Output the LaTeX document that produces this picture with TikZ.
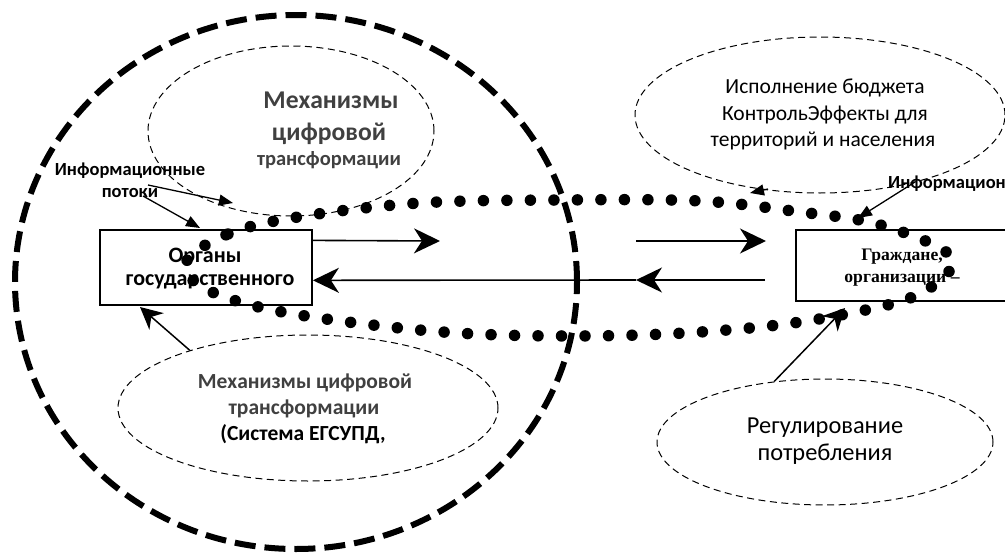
\documentclass[tikz,border=0pt]{standalone}
\usepackage{fontspec}
\setmainfont{Carlito}
\newfontfamily\serifb{Liberation Serif}
\usetikzlibrary{arrows.meta,shapes.geometric,calc}
\definecolor{txtgray}{HTML}{404040}
\begin{document}
\begin{tikzpicture}[x=1pt,y=-1pt,
  thinell/.style={draw, ellipse, line width=1pt, dash pattern=on 7pt off 4.5pt, inner sep=0pt},
  box/.style={draw, line width=1.8pt, inner sep=0pt},
  bigarrow/.style={line width=1.6pt, -{Stealth[length=26pt,width=25pt,inset=8pt]}},
  midarrow/.style={line width=1.5pt, -{Stealth[length=22pt,width=22pt,inset=7pt]}},
  infoarrow/.style={line width=1.3pt, -{Triangle[length=14pt,width=11pt]}},
  ln/.style={inner sep=0pt, anchor=base},
  bigdash/.style={line width=6pt, dash pattern=on 21pt off 9pt},
  dots/.style={line width=11.5pt, line cap=round, dash pattern=on 0pt off 23.5pt}
]
\useasboundingbox (0,0) rectangle (1005,554);
\clip (0,0) rectangle (1005,554);

% dashed ellipses
\node[thinell, minimum width=286pt, minimum height=170pt] (e1) at (291,131) {};
\node[thinell, minimum width=370pt, minimum height=156pt] (e2) at (820,115) {};
\node[thinell, minimum width=380pt, minimum height=146pt] (e3) at (308,408) {};
\node[thinell, minimum width=336pt, minimum height=126pt] (e4) at (825,442) {};

% ellipse texts
\node[ln, text=txtgray, font=\bfseries\fontsize{25.6}{28}\selectfont] (t1a) at (331,108) {Механизмы};
\node[ln, text=txtgray, font=\bfseries\fontsize{25.6}{28}\selectfont] (t1b) at (329,140) {цифровой};
\node[ln, text=txtgray, font=\bfseries\fontsize{20.5}{24}\selectfont] (t1c) at (329,165) {трансформации};

\node[ln, font=\fontsize{21.5}{26}\selectfont] (t2a) at (825,93) {Исполнение бюджета};
\node[ln, font=\fontsize{21.5}{26}\selectfont] (t2b) at (825,120) {КонтрольЭффекты для};
\node[ln, font=\fontsize{21.5}{26}\selectfont] (t2c) at (823,146) {территорий и населения};

\node[ln, text=txtgray, font=\bfseries\fontsize{21.5}{26}\selectfont] (t3a) at (305,388) {Механизмы цифровой};
\node[ln, text=txtgray, font=\bfseries\fontsize{21.5}{26}\selectfont] (t3b) at (304,414) {трансформации};
\node[ln, font=\bfseries\fontsize{21.5}{26}\selectfont] (t3c) at (303,440) {(Система ЕГСУПД,};

\node[ln, font=\fontsize{24.4}{28}\selectfont] (t4a) at (825,433) {Регулирование};
\node[ln, font=\fontsize{24.4}{28}\selectfont] (t4b) at (825,460) {потребления};

% boxes
\node[box, minimum width=212pt, minimum height=75pt] (gov) at (206,267.5) {};
\node[box, minimum width=220pt, minimum height=71pt] (cit) at (906,265.5) {};
\node[ln, font=\bfseries\fontsize{22}{26}\selectfont] (gov1) at (205,262) {Органы};
\node[ln, font=\bfseries\fontsize{22}{26}\selectfont] (gov2) at (210,285) {государственного};
\node[ln, font=\serifb\bfseries\fontsize{17.6}{20}\selectfont] (cit1) at (902,260) {Граждане,};
\node[ln, font=\serifb\bfseries\fontsize{17.6}{20}\selectfont] (cit2) at (902,282) {организации –};

% info labels
\node[ln, font=\bfseries\fontsize{18.5}{22}\selectfont] (inf1a) at (130,175) {Информационные};
\node[ln, font=\bfseries\fontsize{18.5}{22}\selectfont] (inf1b) at (130,197) {потоки};
\node[ln, anchor=base west, font=\bfseries\fontsize{18.5}{22}\selectfont] (inf2) at (888,188) {Информацион};

% horizontal arrows
\coordinate (a1e) at (440,241);
\coordinate (a2s) at (636,241);
\coordinate (a2e) at (766,241);
\coordinate (a3s) at (765,280);
\coordinate (a3m) at (636,280);
\draw[bigarrow] ($(gov.north east)!0.147!(gov.south east)$) -- (a1e);
\draw[bigarrow] (a2s) -- (a2e);
\draw[bigarrow] (a3s) -- (a3m);
\draw[bigarrow] (a3m) -- ($(gov.north east)!0.667!(gov.south east)$);

% info arrows
\coordinate (i1s) at (148,185);
\coordinate (i1e) at (233,203);
\coordinate (i2s) at (143,196);
\coordinate (i2e) at (200,228);
\coordinate (i3s) at (915,182);
\coordinate (i3e) at (858,218);
\coordinate (i4s) at (768,189);
\coordinate (i4e) at (750,193);
\draw[infoarrow] (i1s) -- (i1e);
\draw[infoarrow] (i2s) -- (i2e);
\draw[infoarrow] (i3s) -- (i3e);
\draw[infoarrow] (i4s) -- (i4e);

% stealth arrows from ellipses
\coordinate (g1) at (140,307);
\coordinate (c1) at (845,308);
\draw[midarrow] (e3.154) -- (g1);
\draw[midarrow] (e4.130) -- (c1);

% big dashed circle
\draw[bigdash] (296,282) ellipse [x radius=281pt, y radius=267pt];

% dotted loop
\draw[dots] plot[smooth cycle, tension=0.6] coordinates {
 (186,262) (228,234) (298,217) (420,203) (560,200) (700,201) (800,212) (873,223)
 (938,247) (952,267) (915,296) (846,314) (760,327) (640,335) (500,335) (390,327)
 (272,310) (204,288)};
\end{tikzpicture}
\end{document}
